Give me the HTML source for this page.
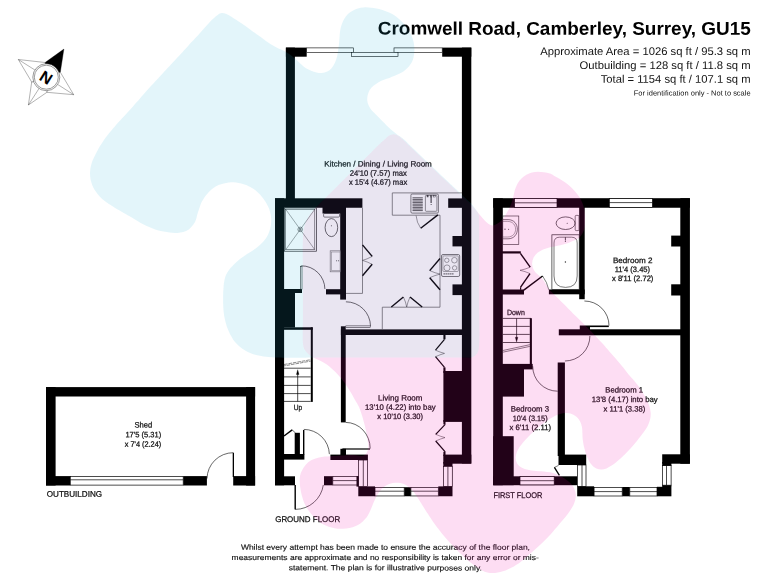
<!DOCTYPE html>
<html lang="en">
<head>
<meta charset="utf-8">
<title>Cromwell Road, Camberley, Surrey, GU15 - Floor plan</title>
<style>
html,body{margin:0;padding:0;background:#fff;}
body{width:768px;height:576px;overflow:hidden;}
svg{display:block;font-family:"Liberation Sans",sans-serif;text-rendering:geometricPrecision;}
</style>
</head>
<body>
<svg width="768" height="576" viewBox="0 0 768 576" shape-rendering="geometricPrecision">
<rect x="0" y="0" width="768" height="576" fill="#fff"/>
<g id="plan">
<rect x="46.00" y="387.10" width="209.10" height="9.40" fill="#000" />
<rect x="46.00" y="387.10" width="9.60" height="98.40" fill="#000" />
<rect x="246.10" y="387.10" width="9.00" height="98.40" fill="#000" />
<rect x="46.00" y="476.10" width="24.30" height="9.40" fill="#000" />
<rect x="183.20" y="476.10" width="23.70" height="9.40" fill="#000" />
<rect x="233.20" y="476.10" width="21.90" height="9.40" fill="#000" />
<rect x="70.30" y="476.40" width="112.90" height="8.70" fill="#fff" stroke="#000" stroke-width="0.7" />
<line x1="70.30" y1="479.80" x2="183.20" y2="479.80" stroke="#000" stroke-width="0.7" />
<rect x="232.70" y="452.80" width="1.30" height="24.20" fill="#000" />
<path d="M207.00,478.54 A26.30,26.30 0 0 1 233.30,452.70" fill="none" stroke="#000" stroke-width="0.6" />
<rect x="285.90" y="47.60" width="9.00" height="152.40" fill="#000" />
<rect x="285.90" y="47.60" width="20.80" height="9.10" fill="#000" />
<rect x="461.90" y="47.60" width="9.40" height="415.90" fill="#000" />
<rect x="442.20" y="47.60" width="29.10" height="9.10" fill="#000" />
<rect x="306.70" y="47.90" width="46.90" height="4.50" fill="#fff" stroke="#000" stroke-width="0.6" />
<rect x="394.00" y="47.90" width="48.20" height="4.50" fill="#fff" stroke="#000" stroke-width="0.6" />
<rect x="351.40" y="52.40" width="46.60" height="4.10" fill="#fff" stroke="#000" stroke-width="0.6" />
<rect x="275.00" y="198.30" width="9.10" height="287.00" fill="#000" />
<rect x="275.00" y="198.30" width="87.40" height="9.45" fill="#000" />
<rect x="322.50" y="205.00" width="23.50" height="8.50" fill="#000" />
<rect x="340.20" y="205.00" width="5.80" height="94.60" fill="#000" />
<rect x="326.00" y="289.20" width="16.00" height="5.20" fill="#000" />
<rect x="280.00" y="289.00" width="22.00" height="4.00" fill="#000" />
<rect x="275.00" y="290.00" width="20.00" height="37.50" fill="#000" />
<rect x="280.00" y="327.30" width="32.70" height="2.50" fill="#000" />
<rect x="310.80" y="327.30" width="2.00" height="74.60" fill="#000" />
<rect x="340.90" y="326.30" width="4.80" height="96.10" fill="#000" />
<rect x="340.90" y="329.40" width="124.10" height="5.60" fill="#000" />
<rect x="448.20" y="198.40" width="16.80" height="9.40" fill="#000" />
<rect x="452.50" y="236.00" width="12.50" height="10.40" fill="#000" />
<rect x="452.50" y="284.40" width="12.50" height="10.70" fill="#000" />
<rect x="443.40" y="333.00" width="2.10" height="6.30" fill="#000" />
<rect x="443.40" y="367.40" width="2.10" height="5.60" fill="#000" />
<rect x="443.40" y="371.00" width="21.60" height="50.90" fill="#000" />
<rect x="443.40" y="420.00" width="2.10" height="4.40" fill="#000" />
<rect x="443.40" y="451.80" width="2.10" height="4.20" fill="#000" />
<rect x="443.30" y="454.60" width="28.00" height="9.10" fill="#000" />
<rect x="443.30" y="462.00" width="9.20" height="4.60" fill="#000" />
<rect x="443.50" y="466.40" width="8.80" height="20.00" fill="#fff" stroke="#000" stroke-width="0.7" />
<line x1="447.90" y1="466.40" x2="447.90" y2="486.40" stroke="#000" stroke-width="0.7" />
<rect x="438.30" y="486.40" width="14.20" height="9.85" fill="#000" />
<rect x="358.30" y="486.40" width="16.70" height="9.85" fill="#000" />
<rect x="404.20" y="487.20" width="6.70" height="9.05" fill="#000" />
<rect x="375.00" y="487.60" width="29.20" height="8.35" fill="#fff" stroke="#000" stroke-width="0.7" />
<line x1="375.00" y1="491.20" x2="404.20" y2="491.20" stroke="#000" stroke-width="0.7" />
<rect x="410.90" y="487.60" width="27.40" height="8.35" fill="#fff" stroke="#000" stroke-width="0.7" />
<line x1="410.90" y1="491.20" x2="438.30" y2="491.20" stroke="#000" stroke-width="0.7" />
<rect x="358.60" y="460.00" width="8.90" height="26.40" fill="#fff" stroke="#000" stroke-width="0.7" />
<line x1="363.30" y1="460.00" x2="363.30" y2="486.40" stroke="#000" stroke-width="0.7" />
<rect x="330.40" y="454.60" width="37.50" height="5.40" fill="#000" />
<rect x="340.40" y="448.80" width="5.60" height="7.20" fill="#000" />
<rect x="324.00" y="476.20" width="8.80" height="9.10" fill="#000" />
<rect x="332.80" y="476.50" width="25.20" height="8.50" fill="#fff" stroke="#000" stroke-width="0.7" />
<line x1="332.80" y1="480.60" x2="358.00" y2="480.60" stroke="#000" stroke-width="0.7" />
<rect x="356.50" y="476.20" width="2.10" height="10.40" fill="#000" />
<rect x="275.00" y="476.30" width="20.00" height="9.00" fill="#000" />
<rect x="280.00" y="454.00" width="24.40" height="5.60" fill="#000" />
<rect x="294.70" y="432.80" width="5.20" height="23.20" fill="#000" />
<line x1="284.00" y1="436.00" x2="292.20" y2="429.90" stroke="#000" stroke-width="1.4" />
<line x1="292.20" y1="429.90" x2="295.50" y2="433.00" stroke="#000" stroke-width="0.6" />
<rect x="303.00" y="430.00" width="1.40" height="24.50" fill="#000" />
<path d="M303.80,429.40 A25.60,25.60 0 0 1 329.38,454.11" fill="none" stroke="#000" stroke-width="0.6" />
<rect x="294.50" y="485.00" width="1.40" height="24.40" fill="#000" />
<path d="M295.20,509.40 A28.40,28.40 0 0 0 323.32,484.95" fill="none" stroke="#000" stroke-width="0.6" />
<rect x="342.40" y="448.40" width="27.60" height="1.20" fill="#000" />
<path d="M345.7,422.4 A24.5,26.2 0 0 1 370.2,448.6" fill="none" stroke="#000" stroke-width="0.6" />
<rect x="345.80" y="325.90" width="24.40" height="1.70" fill="#fff" stroke="#000" stroke-width="0.5" />
<path d="M345.90,301.80 A24.60,24.60 0 0 1 370.50,325.97" fill="none" stroke="#000" stroke-width="0.6" />
<rect x="300.50" y="266.20" width="1.50" height="23.00" fill="#fff" stroke="#000" stroke-width="0.5" />
<path d="M301.30,265.80 A23.60,23.60 0 0 1 324.90,288.99" fill="none" stroke="#000" stroke-width="0.6" />
<line x1="284.00" y1="368.20" x2="310.70" y2="368.20" stroke="#000" stroke-width="0.7" />
<line x1="284.00" y1="376.90" x2="310.70" y2="376.90" stroke="#000" stroke-width="0.7" />
<line x1="284.00" y1="385.40" x2="310.70" y2="385.40" stroke="#000" stroke-width="0.7" />
<line x1="284.00" y1="393.60" x2="310.70" y2="393.60" stroke="#000" stroke-width="0.7" />
<line x1="284.00" y1="401.40" x2="310.70" y2="401.40" stroke="#000" stroke-width="0.7" />
<line x1="284.00" y1="364.50" x2="310.70" y2="359.70" stroke="#000" stroke-width="0.45" stroke-dasharray="3.6 0.9"/>
<line x1="284.00" y1="365.90" x2="310.70" y2="361.10" stroke="#000" stroke-width="0.45" stroke-dasharray="3.6 0.9" stroke-dashoffset="1.8"/>
<line x1="297.70" y1="401.40" x2="297.70" y2="373.00" stroke="#000" stroke-width="0.7" />
<path d="M296.4,374.6 L297.7,369.7 L299.0,374.6Z" fill="#000" stroke="#000" stroke-width="0.3" />
<rect x="284.30" y="208.00" width="32.10" height="43.20" fill="none" stroke="#222" stroke-width="0.7" />
<rect x="285.70" y="209.30" width="29.10" height="40.40" fill="none" stroke="#222" stroke-width="0.5" />
<line x1="285.70" y1="209.30" x2="314.80" y2="249.70" stroke="#222" stroke-width="0.4" />
<line x1="314.80" y1="209.30" x2="285.70" y2="249.70" stroke="#222" stroke-width="0.4" />
<circle cx="300.2" cy="229.4" r="2.3" fill="none" stroke="#222" stroke-width="0.5"/>
<circle cx="300.2" cy="229.4" r="1.0" fill="none" stroke="#222" stroke-width="0.4"/>
<rect x="323.6" y="213.5" width="15.9" height="3.6" rx="1" fill="none" stroke="#222" stroke-width="0.6"/>
<ellipse cx="331.4" cy="227.6" rx="6.3" ry="9.0" fill="none" stroke="#222" stroke-width="0.7"/>
<circle cx="331.4" cy="225.8" r="0.5" fill="#333"/>
<rect x="330.20" y="250.80" width="10.00" height="21.00" fill="none" stroke="#777" stroke-width="0.7" />
<rect x="331.40" y="252.00" width="8.80" height="18.60" fill="none" stroke="#777" stroke-width="0.5" />
<circle cx="336.6" cy="260.8" r="0.5" fill="#333"/><circle cx="338.6" cy="260.8" r="0.5" fill="#333"/>
<path d="M346,293.4 L362.5,293.4 L362.5,207.8" fill="none" stroke="#555" stroke-width="0.7" />
<line x1="362.50" y1="244.90" x2="372.20" y2="256.40" stroke="#000" stroke-width="1.4" />
<line x1="372.20" y1="264.30" x2="362.50" y2="275.80" stroke="#000" stroke-width="1.4" />
<path d="M372.2,256.4 Q367,259.2 362.5,260.4 Q367,261.6 372.2,264.3" fill="none" stroke="#000" stroke-width="0.4" />
<path d="M392.3,192.9 L462,192.9 M392.3,192.9 L392.3,215.2 L440.0,215.2 L440.0,307.2 L382.3,307.2 L382.3,329.4" fill="none" stroke="#555" stroke-width="0.7" />
<rect x="410.9" y="194.0" width="27.5" height="19.1" rx="1.2" fill="none" stroke="#444" stroke-width="0.7"/>
<rect x="425.4" y="195.4" width="11.5" height="15.9" rx="0.8" fill="none" stroke="#444" stroke-width="0.6"/>
<line x1="412.50" y1="197.80" x2="422.80" y2="197.80" stroke="#444" stroke-width="0.9" />
<line x1="412.50" y1="199.40" x2="422.80" y2="199.40" stroke="#444" stroke-width="0.9" />
<line x1="412.50" y1="201.00" x2="422.80" y2="201.00" stroke="#444" stroke-width="0.9" />
<line x1="412.50" y1="202.60" x2="422.80" y2="202.60" stroke="#444" stroke-width="0.9" />
<line x1="412.50" y1="204.20" x2="422.80" y2="204.20" stroke="#444" stroke-width="0.9" />
<line x1="412.50" y1="205.80" x2="422.80" y2="205.80" stroke="#444" stroke-width="0.9" />
<line x1="412.50" y1="207.40" x2="422.80" y2="207.40" stroke="#444" stroke-width="0.9" />
<line x1="412.50" y1="209.00" x2="422.80" y2="209.00" stroke="#444" stroke-width="0.9" />
<line x1="412.50" y1="210.60" x2="422.80" y2="210.60" stroke="#444" stroke-width="0.9" />
<line x1="431.10" y1="196.20" x2="431.10" y2="203.00" stroke="#222" stroke-width="1.0" />
<rect x="427.0" y="195.6" width="1.6" height="1.4" fill="none" stroke="#222" stroke-width="0.4"/>
<rect x="430.3" y="195.6" width="1.6" height="1.4" fill="none" stroke="#222" stroke-width="0.4"/>
<rect x="433.6" y="195.6" width="1.6" height="1.4" fill="none" stroke="#222" stroke-width="0.4"/>
<circle cx="431.1" cy="204.6" r="0.5" fill="#222"/>
<line x1="437.90" y1="214.90" x2="420.70" y2="228.20" stroke="#000" stroke-width="1.4" />
<path d="M420.7,228.2 Q416.6,222.5 416.1,215.6" fill="none" stroke="#000" stroke-width="0.4" />
<rect x="441.5" y="254.5" width="18.2" height="22.0" rx="1.5" fill="none" stroke="#555" stroke-width="0.8"/>
<rect x="442.9" y="255.9" width="15.4" height="15.6" rx="0.8" fill="none" stroke="#555" stroke-width="0.5"/>
<circle cx="446.8" cy="260.3" r="2.2" fill="none" stroke="#444" stroke-width="0.5"/>
<circle cx="454.4" cy="260.2" r="2.8" fill="none" stroke="#444" stroke-width="0.5"/>
<circle cx="447.0" cy="267.9" r="3.0" fill="none" stroke="#444" stroke-width="0.5"/>
<circle cx="454.6" cy="267.9" r="2.2" fill="none" stroke="#444" stroke-width="0.5"/>
<line x1="443.50" y1="273.80" x2="454.00" y2="273.80" stroke="#666" stroke-width="1.2" stroke-dasharray="1.4 0.6"/>
<line x1="440.00" y1="258.50" x2="429.70" y2="270.60" stroke="#000" stroke-width="1.4" />
<line x1="429.70" y1="277.70" x2="440.00" y2="289.80" stroke="#000" stroke-width="1.4" />
<path d="M429.7,270.6 Q435,273 440,274.1 Q435,275.3 429.7,277.7" fill="none" stroke="#000" stroke-width="0.4" />
<line x1="391.30" y1="307.00" x2="403.40" y2="297.00" stroke="#000" stroke-width="1.4" />
<line x1="410.00" y1="297.00" x2="422.20" y2="307.00" stroke="#000" stroke-width="1.4" />
<path d="M403.4,297.0 Q405.8,302 406.7,307 Q407.6,302 410,297" fill="none" stroke="#000" stroke-width="0.4" />
<path d="M444.5,339.3 L435.5,350.2" fill="none" stroke="#000" stroke-width="1.2" />
<path d="M435.5,356.7 L444.5,367.4" fill="none" stroke="#000" stroke-width="1.2" />
<path d="M435.5,350.2 Q440,352.2 444.5,353.4 Q440,354.6 435.5,356.7" fill="none" stroke="#000" stroke-width="0.4" />
<path d="M445.2,424.4 L435.7,434.3" fill="none" stroke="#000" stroke-width="1.2" />
<path d="M435.7,441.0 L445.2,451.8" fill="none" stroke="#000" stroke-width="1.2" />
<path d="M435.7,434.3 Q440.5,436.5 445.0,437.6 Q440.5,438.8 435.7,441.0" fill="none" stroke="#000" stroke-width="0.4" />
<rect x="493.20" y="198.30" width="9.60" height="286.90" fill="#000" />
<rect x="493.20" y="198.20" width="196.70" height="9.55" fill="#000" />
<rect x="680.30" y="198.20" width="9.60" height="265.50" fill="#000" />
<rect x="514.60" y="198.60" width="42.40" height="8.80" fill="#fff" stroke="#000" stroke-width="0.7" />
<line x1="514.60" y1="202.80" x2="557.00" y2="202.80" stroke="#000" stroke-width="0.7" />
<rect x="609.30" y="198.60" width="43.20" height="8.80" fill="#fff" stroke="#000" stroke-width="0.7" />
<line x1="609.30" y1="202.60" x2="652.50" y2="202.60" stroke="#000" stroke-width="0.7" />
<rect x="671.20" y="235.60" width="12.80" height="10.90" fill="#000" />
<rect x="671.20" y="284.30" width="12.80" height="11.20" fill="#000" />
<rect x="579.20" y="205.00" width="5.50" height="94.20" fill="#000" />
<rect x="548.90" y="289.50" width="35.80" height="4.80" fill="#000" />
<rect x="500.00" y="251.30" width="20.80" height="2.20" fill="#000" />
<rect x="500.00" y="289.50" width="24.00" height="5.00" fill="#000" />
<rect x="558.80" y="329.30" width="125.20" height="6.00" fill="#000" />
<rect x="579.80" y="326.80" width="10.20" height="4.20" fill="#000" />
<rect x="557.70" y="362.50" width="7.20" height="93.50" fill="#000" />
<rect x="558.50" y="454.60" width="27.70" height="10.40" fill="#000" />
<rect x="529.80" y="318.20" width="2.10" height="46.80" fill="#000" />
<rect x="500.00" y="363.90" width="32.70" height="5.50" fill="#000" />
<rect x="500.00" y="368.00" width="24.00" height="28.60" fill="#000" />
<rect x="493.20" y="436.20" width="20.50" height="49.00" fill="#000" />
<rect x="493.20" y="476.30" width="84.00" height="8.90" fill="#000" />
<rect x="520.00" y="476.60" width="34.20" height="8.30" fill="#fff" stroke="#000" stroke-width="0.7" />
<line x1="520.00" y1="480.70" x2="554.20" y2="480.70" stroke="#000" stroke-width="0.7" />
<rect x="577.50" y="465.00" width="8.50" height="21.40" fill="#fff" stroke="#000" stroke-width="0.7" />
<line x1="582.00" y1="465.00" x2="582.00" y2="486.40" stroke="#000" stroke-width="0.7" />
<rect x="577.20" y="486.30" width="16.90" height="10.00" fill="#000" />
<rect x="622.20" y="487.00" width="7.60" height="9.30" fill="#000" />
<rect x="657.00" y="486.80" width="14.40" height="9.50" fill="#000" />
<rect x="662.20" y="484.90" width="9.20" height="2.10" fill="#000" />
<rect x="594.10" y="487.50" width="28.10" height="8.50" fill="#fff" stroke="#000" stroke-width="0.7" />
<line x1="594.10" y1="491.60" x2="622.20" y2="491.60" stroke="#000" stroke-width="0.7" />
<rect x="629.80" y="487.50" width="27.20" height="8.50" fill="#fff" stroke="#000" stroke-width="0.7" />
<line x1="629.80" y1="491.60" x2="657.00" y2="491.60" stroke="#000" stroke-width="0.7" />
<rect x="662.50" y="465.60" width="8.60" height="19.60" fill="#fff" stroke="#000" stroke-width="0.7" />
<line x1="666.50" y1="465.60" x2="666.50" y2="485.20" stroke="#000" stroke-width="0.7" />
<rect x="662.20" y="454.30" width="27.70" height="9.40" fill="#000" />
<rect x="662.20" y="462.00" width="9.20" height="3.80" fill="#000" />
<line x1="554.40" y1="467.40" x2="559.40" y2="475.40" stroke="#000" stroke-width="1.3" />
<line x1="558.60" y1="465.40" x2="554.40" y2="467.40" stroke="#000" stroke-width="0.5" />
<line x1="502.80" y1="318.40" x2="531.00" y2="318.40" stroke="#000" stroke-width="0.7" />
<line x1="502.80" y1="326.40" x2="529.80" y2="326.40" stroke="#000" stroke-width="0.7" />
<line x1="502.80" y1="334.40" x2="529.80" y2="334.40" stroke="#000" stroke-width="0.7" />
<line x1="502.80" y1="342.50" x2="529.80" y2="342.50" stroke="#000" stroke-width="0.7" />
<line x1="502.80" y1="350.50" x2="529.80" y2="344.70" stroke="#000" stroke-width="0.5" />
<line x1="502.80" y1="352.20" x2="529.80" y2="346.40" stroke="#000" stroke-width="0.5" />
<line x1="516.60" y1="318.40" x2="516.60" y2="338.50" stroke="#000" stroke-width="0.7" />
<path d="M515.3,337.2 L516.6,342.0 L517.9,337.2Z" fill="#000" stroke="#000" stroke-width="0.3" />
<line x1="520.40" y1="253.40" x2="530.20" y2="267.20" stroke="#000" stroke-width="1.4" />
<line x1="530.00" y1="273.60" x2="520.60" y2="287.20" stroke="#000" stroke-width="1.4" />
<line x1="520.60" y1="287.20" x2="520.60" y2="289.80" stroke="#000" stroke-width="1.2" />
<path d="M530.2,267.2 Q525,269.4 520.0,270.3 Q525,271.3 530.0,273.6" fill="none" stroke="#000" stroke-width="0.4" />
<line x1="523.80" y1="290.20" x2="542.60" y2="276.00" stroke="#000" stroke-width="1.5" />
<path d="M542.6,276.0 Q547.2,282.3 548.8,289.8" fill="none" stroke="#000" stroke-width="0.5" />
<rect x="579.80" y="325.50" width="29.00" height="1.60" fill="#000" />
<path d="M584.40,301.00 A24.60,24.60 0 0 1 609.00,325.60" fill="none" stroke="#000" stroke-width="0.6" />
<path d="M589.90,336.00 A25.00,25.00 0 0 1 564.90,361.00" fill="none" stroke="#000" stroke-width="0.6" />
<path d="M557.70,391.20 A25.00,25.00 0 0 1 532.70,366.20" fill="none" stroke="#000" stroke-width="0.6" />
<rect x="502.80" y="216.00" width="16.00" height="28.40" fill="none" stroke="#222" stroke-width="0.6" />
<path d="M503.0,219.6 L508.0,219.6 C520.5,219.6 520.5,238.8 508.0,238.8 L503.0,238.8" fill="none" stroke="#222" stroke-width="0.6" />
<path d="M503.0,221.4 L507.6,221.4 C518.3,221.4 518.3,237.0 507.6,237.0 L503.0,237.0" fill="none" stroke="#222" stroke-width="0.4" />
<circle cx="505.0" cy="229.2" r="0.6" fill="#333"/><circle cx="508.6" cy="229.2" r="0.5" fill="#333"/>
<rect x="575.2" y="215.4" width="3.8" height="15.2" rx="1" fill="none" stroke="#222" stroke-width="0.6"/>
<ellipse cx="565.6" cy="223.2" rx="9.5" ry="6.3" fill="none" stroke="#222" stroke-width="0.7"/>
<circle cx="567.2" cy="223.2" r="0.5" fill="#333"/>
<rect x="551.90" y="234.80" width="27.30" height="54.70" fill="none" stroke="#222" stroke-width="0.7" />
<path d="M554.0,243.0 Q554.0,237.2 559.5,237.2 L571.6,237.2 Q577.2,237.2 577.2,243.0 L577.2,276.0 Q577.2,287.4 565.6,287.4 Q554.0,287.4 554.0,276.0Z" fill="none" stroke="#222" stroke-width="0.6"/>
<circle cx="565.4" cy="262.0" r="0.7" fill="#333"/>
<line x1="565.40" y1="237.20" x2="565.40" y2="240.20" stroke="#222" stroke-width="0.8" />
<circle cx="565.4" cy="241.2" r="0.6" fill="#333"/>
</g>
<g id="compass" stroke="#222" stroke-width="0.35" fill="none" stroke-linejoin="round">
<path d="M63.9,49.1 L45.1,62.5 L46.3,77.2 L60.3,72.2Z" fill="#000" stroke="#000"/>
<path d="M73.7,94.7 L60.3,72.2 L46.3,77.2 L46.9,92.3Z M73.7,94.7 L46.3,77.2" fill="#fff"/>
<path d="M28.4,105.0 L46.9,92.3 L46.3,77.2 L31.7,82.0Z M28.4,105.0 L46.3,77.2" fill="#fff"/>
<path d="M18.3,59.5 L31.7,82.0 L46.3,77.2 L45.1,62.5Z M18.3,59.5 L46.3,77.2" fill="#fff"/>
<circle cx="46.3" cy="77.2" r="13.5" fill="#fff" stroke-width="0.45"/>
<circle cx="46.3" cy="77.2" r="12.0" fill="#fff" stroke-width="0.45"/>
</g>
<text opacity="0.999" x="46.1" y="77.4" transform="rotate(32 46.1 77.4)" font-size="16" font-weight="bold" text-anchor="middle" dy="5.75" fill="#000">N</text>
<g id="labels" opacity="0.999">
<text x="377.80" y="34.60" transform="rotate(0.03 377.8 34.6)" font-size="18.4" text-anchor="start" font-weight="bold" fill="#000" textLength="373.00" lengthAdjust="spacingAndGlyphs" >Cromwell Road, Camberley, Surrey, GU15</text>
<text x="540.20" y="54.90" transform="rotate(0.03 540.2 54.9)" font-size="11.1" text-anchor="start" font-weight="normal" fill="#111" textLength="210.40" lengthAdjust="spacingAndGlyphs" >Approximate Area = 1026 sq ft / 95.3 sq m</text>
<text x="579.60" y="68.90" transform="rotate(0.03 579.6 68.9)" font-size="11.1" text-anchor="start" font-weight="normal" fill="#111" textLength="171.00" lengthAdjust="spacingAndGlyphs" >Outbuilding = 128 sq ft / 11.8 sq m</text>
<text x="600.70" y="82.80" transform="rotate(0.03 600.7 82.8)" font-size="11.1" text-anchor="start" font-weight="normal" fill="#111" textLength="149.90" lengthAdjust="spacingAndGlyphs" >Total = 1154 sq ft / 107.1 sq m</text>
<text x="633.80" y="95.50" transform="rotate(0.03 633.8 95.5)" font-size="7.3" text-anchor="start" font-weight="normal" fill="#111" textLength="116.80" lengthAdjust="spacingAndGlyphs" >For identification only - Not to scale</text>
<text x="324.30" y="166.40" transform="rotate(0.03 324.3 166.4)" font-size="7.8" text-anchor="start" font-weight="normal" fill="#111" stroke="#111" stroke-width="0.25" textLength="107.50" lengthAdjust="spacingAndGlyphs" >Kitchen / Dining / Living Room</text>
<text x="349.70" y="175.70" transform="rotate(0.03 349.7 175.7)" font-size="7.8" text-anchor="start" font-weight="normal" fill="#111" stroke="#111" stroke-width="0.25" textLength="57.20" lengthAdjust="spacingAndGlyphs" >24'10 (7.57) max</text>
<text x="348.90" y="184.70" transform="rotate(0.03 348.9 184.7)" font-size="7.8" text-anchor="start" font-weight="normal" fill="#111" stroke="#111" stroke-width="0.25" textLength="58.30" lengthAdjust="spacingAndGlyphs" >x 15'4 (4.67) max</text>
<text x="378.10" y="400.60" transform="rotate(0.03 378.1 400.6)" font-size="7.8" text-anchor="start" font-weight="normal" fill="#111" stroke="#111" stroke-width="0.25" textLength="44.30" lengthAdjust="spacingAndGlyphs" >Living Room</text>
<text x="365.00" y="409.70" transform="rotate(0.03 365.0 409.7)" font-size="7.8" text-anchor="start" font-weight="normal" fill="#111" stroke="#111" stroke-width="0.25" textLength="70.60" lengthAdjust="spacingAndGlyphs" >13'10 (4.22) into bay</text>
<text x="377.30" y="419.00" transform="rotate(0.03 377.3 419.0)" font-size="7.8" text-anchor="start" font-weight="normal" fill="#111" stroke="#111" stroke-width="0.25" textLength="45.70" lengthAdjust="spacingAndGlyphs" >x 10'10 (3.30)</text>
<text x="134.50" y="427.60" transform="rotate(0.03 134.5 427.6)" font-size="7.8" text-anchor="start" font-weight="normal" fill="#111" stroke="#111" stroke-width="0.25" textLength="17.80" lengthAdjust="spacingAndGlyphs" >Shed</text>
<text x="125.40" y="437.30" transform="rotate(0.03 125.4 437.3)" font-size="7.8" text-anchor="start" font-weight="normal" fill="#111" stroke="#111" stroke-width="0.25" textLength="35.80" lengthAdjust="spacingAndGlyphs" >17'5 (5.31)</text>
<text x="124.70" y="446.80" transform="rotate(0.03 124.7 446.8)" font-size="7.8" text-anchor="start" font-weight="normal" fill="#111" stroke="#111" stroke-width="0.25" textLength="36.50" lengthAdjust="spacingAndGlyphs" >x 7'4 (2.24)</text>
<text x="612.90" y="262.90" transform="rotate(0.03 612.9 262.9)" font-size="7.8" text-anchor="start" font-weight="normal" fill="#111" stroke="#111" stroke-width="0.25" textLength="39.60" lengthAdjust="spacingAndGlyphs" >Bedroom 2</text>
<text x="614.70" y="272.00" transform="rotate(0.03 614.7 272.0)" font-size="7.8" text-anchor="start" font-weight="normal" fill="#111" stroke="#111" stroke-width="0.25" textLength="35.40" lengthAdjust="spacingAndGlyphs" >11'4 (3.45)</text>
<text x="612.00" y="281.10" transform="rotate(0.03 612.0 281.1)" font-size="7.8" text-anchor="start" font-weight="normal" fill="#111" stroke="#111" stroke-width="0.25" textLength="41.40" lengthAdjust="spacingAndGlyphs" >x 8'11 (2.72)</text>
<text x="605.30" y="392.40" transform="rotate(0.03 605.3 392.4)" font-size="7.8" text-anchor="start" font-weight="normal" fill="#111" stroke="#111" stroke-width="0.25" textLength="37.70" lengthAdjust="spacingAndGlyphs" >Bedroom 1</text>
<text x="591.80" y="402.10" transform="rotate(0.03 591.8 402.1)" font-size="7.8" text-anchor="start" font-weight="normal" fill="#111" stroke="#111" stroke-width="0.25" textLength="65.90" lengthAdjust="spacingAndGlyphs" >13'8 (4.17) into bay</text>
<text x="603.50" y="411.60" transform="rotate(0.03 603.5 411.6)" font-size="7.8" text-anchor="start" font-weight="normal" fill="#111" stroke="#111" stroke-width="0.25" textLength="41.80" lengthAdjust="spacingAndGlyphs" >x 11'1 (3.38)</text>
<text x="510.80" y="411.40" transform="rotate(0.03 510.8 411.4)" font-size="7.8" text-anchor="start" font-weight="normal" fill="#111" stroke="#111" stroke-width="0.25" textLength="38.20" lengthAdjust="spacingAndGlyphs" >Bedroom 3</text>
<text x="512.70" y="421.00" transform="rotate(0.03 512.7 421.0)" font-size="7.8" text-anchor="start" font-weight="normal" fill="#111" stroke="#111" stroke-width="0.25" textLength="35.00" lengthAdjust="spacingAndGlyphs" >10'4 (3.15)</text>
<text x="509.50" y="430.10" transform="rotate(0.03 509.5 430.1)" font-size="7.8" text-anchor="start" font-weight="normal" fill="#111" stroke="#111" stroke-width="0.25" textLength="41.50" lengthAdjust="spacingAndGlyphs" >x 6'11 (2.11)</text>
<text x="293.80" y="409.70" transform="rotate(0.03 293.8 409.7)" font-size="7.6" text-anchor="start" font-weight="normal" fill="#111" stroke="#111" stroke-width="0.25" textLength="8.50" lengthAdjust="spacingAndGlyphs" >Up</text>
<text x="506.90" y="314.90" transform="rotate(0.03 506.9 314.9)" font-size="7.6" text-anchor="start" font-weight="normal" fill="#111" stroke="#111" stroke-width="0.25" textLength="17.90" lengthAdjust="spacingAndGlyphs" >Down</text>
<text x="46.80" y="496.80" transform="rotate(0.03 46.8 496.8)" font-size="8.2" text-anchor="start" font-weight="normal" fill="#111" stroke="#111" stroke-width="0.25" textLength="55.30" lengthAdjust="spacingAndGlyphs" >OUTBUILDING</text>
<text x="275.20" y="522.00" transform="rotate(0.03 275.2 522.0)" font-size="8.2" text-anchor="start" font-weight="normal" fill="#111" stroke="#111" stroke-width="0.25" textLength="65.00" lengthAdjust="spacingAndGlyphs" >GROUND FLOOR</text>
<text x="493.40" y="498.00" transform="rotate(0.03 493.4 498.0)" font-size="8.2" text-anchor="start" font-weight="normal" fill="#111" stroke="#111" stroke-width="0.25" textLength="48.90" lengthAdjust="spacingAndGlyphs" >FIRST FLOOR</text>
<text x="240.90" y="549.70" transform="rotate(0.03 240.9 549.7)" font-size="7.5" text-anchor="start" font-weight="normal" fill="#111" stroke="#111" stroke-width="0.15" textLength="289.10" lengthAdjust="spacingAndGlyphs" >Whilst every attempt has been made to ensure the accuracy of the floor plan,</text>
<text x="231.60" y="559.90" transform="rotate(0.03 231.6 559.9)" font-size="7.5" text-anchor="start" font-weight="normal" fill="#111" stroke="#111" stroke-width="0.15" textLength="307.20" lengthAdjust="spacingAndGlyphs" >measurements are approximate and no responsibility is taken for any error or mis-</text>
<text x="288.70" y="570.30" transform="rotate(0.03 288.7 570.3)" font-size="7.5" text-anchor="start" font-weight="normal" fill="#111" stroke="#111" stroke-width="0.15" textLength="193.30" lengthAdjust="spacingAndGlyphs" >statement. The plan is for illustrative purposes only.</text>
</g>
<defs>
<path id="wb" d="M222.0,13.0 L224.2,13.2 L226.5,14.0 L228.9,15.3 L231.4,16.8 L234.0,18.4 L236.5,20.0 L238.7,21.4 L241.0,22.9 L243.2,24.4 L245.5,26.1 L247.8,27.8 L250.1,29.5 L252.4,31.2 L254.7,32.8 L257.0,34.4 L259.3,36.1 L261.7,37.8 L264.0,39.5 L266.3,41.2 L268.6,42.8 L270.8,44.3 L273.0,45.6 L275.7,47.1 L278.5,48.4 L281.1,49.5 L283.6,50.7 L286.0,52.0 L288.4,53.5 L290.6,55.1 L292.8,56.8 L295.0,58.6 L297.1,60.5 L299.2,62.5 L301.4,64.6 L303.6,66.6 L306.0,68.2 L308.5,69.6 L311.1,70.8 L313.8,71.8 L316.4,72.6 L319.0,72.9 L321.8,72.9 L324.6,72.4 L327.2,71.6 L329.5,70.3 L331.6,68.3 L333.3,65.8 L334.8,62.9 L336.0,60.0 L336.8,57.6 L337.4,55.1 L337.8,52.5 L338.2,49.8 L338.6,46.9 L338.9,44.5 L339.2,41.9 L339.4,39.1 L339.6,36.3 L339.8,33.5 L340.1,30.9 L340.6,28.3 L341.2,26.0 L342.2,23.3 L343.2,20.7 L344.5,18.4 L346.0,16.2 L347.7,14.3 L349.8,12.5 L352.3,10.9 L355.0,9.6 L357.8,8.5 L360.7,7.8 L363.1,7.5 L365.7,7.3 L368.4,7.4 L371.1,7.7 L373.8,8.1 L376.5,8.5 L379.0,9.1 L381.7,9.8 L384.5,10.7 L387.1,11.7 L389.7,12.8 L392.2,14.1 L394.6,15.6 L396.7,17.1 L398.7,18.8 L400.7,20.5 L402.7,22.5 L404.5,24.5 L406.1,26.5 L407.6,28.6 L409.1,31.0 L410.5,33.6 L411.7,36.2 L412.7,38.9 L413.5,41.6 L414.0,44.3 L414.3,46.9 L414.4,49.7 L414.3,52.4 L414.0,55.1 L413.5,57.6 L412.8,60.0 L411.7,62.4 L410.3,64.6 L408.7,66.7 L406.9,68.6 L405.0,70.3 L402.7,71.9 L400.2,73.3 L397.5,74.5 L394.7,75.7 L392.0,76.8 L389.4,77.9 L386.7,78.8 L384.0,79.7 L381.4,80.8 L379.0,82.0 L376.4,83.7 L373.8,85.5 L371.6,87.5 L369.8,89.8 L368.6,92.3 L367.7,95.0 L367.3,97.7 L367.2,100.3 L367.7,103.0 L368.7,105.6 L370.0,108.0 L371.8,110.4 L373.9,112.6 L376.0,114.7 L378.6,117.3 L381.2,120.0 L383.0,121.8 L384.8,123.6 L386.6,125.5 L388.5,127.3 L390.9,129.5 L393.4,131.6 L395.8,133.6 L398.0,135.2 L400.2,136.6 L402.5,138.2 L404.6,140.1 L406.7,142.1 L408.8,144.2 L410.9,146.3 L413.0,148.3 L415.1,150.3 L417.2,152.3 L419.2,154.3 L421.3,156.3 L423.4,158.2 L425.4,160.2 L427.5,162.1 L429.5,164.0 L431.4,165.8 L433.3,167.7 L435.5,169.8 L437.3,171.6 L439.3,173.5 L441.4,175.4 L443.6,177.5 L445.7,179.5 L447.9,181.6 L449.9,183.5 L452.1,185.6 L454.2,187.6 L456.4,189.6 L458.5,191.6 L460.5,193.6 L462.5,195.5 L464.6,197.5 L466.7,199.4 L468.7,201.3 L470.6,203.1 L472.2,204.8 L474.3,207.4 L476.0,209.8 L477.5,212.1 L478.6,214.5 L479.0,216.6 L479.0,218.8 L479.0,222.0 L479.0,223.3 L479.1,224.8 L479.1,226.4 L479.1,228.2 L479.1,230.1 L479.1,232.2 L479.1,234.5 L479.1,236.8 L479.1,239.3 L479.1,241.8 L479.1,244.4 L479.1,247.2 L479.1,249.9 L479.1,252.8 L479.1,255.7 L479.1,258.6 L479.1,261.6 L479.1,264.5 L479.1,267.5 L479.1,270.5 L479.1,273.5 L479.1,276.4 L479.0,279.3 L479.0,282.2 L479.0,285.0 L479.0,287.7 L479.0,290.3 L479.0,292.9 L479.0,295.4 L479.0,297.8 L479.0,300.0 L479.0,302.9 L479.0,305.9 L479.1,308.8 L479.1,311.8 L479.1,314.8 L479.2,317.7 L479.2,320.6 L479.3,323.5 L479.3,326.3 L479.3,329.0 L479.4,331.6 L479.4,334.1 L479.4,336.5 L479.3,338.7 L479.3,340.8 L479.2,342.7 L479.1,344.5 L479.0,346.0 L478.6,350.1 L477.6,353.0 L475.4,355.5 L472.5,357.2 L470.2,357.7 L467.5,357.6 L464.0,357.5 L462.5,357.5 L460.9,357.5 L459.1,357.6 L457.2,357.6 L455.1,357.6 L452.8,357.6 L450.5,357.6 L448.0,357.6 L445.5,357.6 L442.8,357.6 L440.1,357.6 L437.3,357.6 L434.5,357.6 L431.6,357.6 L428.7,357.6 L425.7,357.6 L422.8,357.5 L419.8,357.5 L416.9,357.5 L413.9,357.5 L411.0,357.5 L408.2,357.5 L405.4,357.5 L402.7,357.5 L400.0,357.5 L397.5,357.5 L395.1,357.5 L392.6,357.5 L390.1,357.5 L387.6,357.5 L385.1,357.5 L382.5,357.5 L380.0,357.5 L377.4,357.5 L374.9,357.5 L372.3,357.5 L369.8,357.5 L367.2,357.5 L364.7,357.5 L362.1,357.5 L359.6,357.5 L357.0,357.5 L354.5,357.5 L352.0,357.5 L349.5,357.5 L347.0,357.5 L344.5,357.5 L342.0,357.5 L339.6,357.5 L337.2,357.5 L334.7,357.5 L332.4,357.5 L330.0,357.5 L327.3,357.5 L324.6,357.5 L321.9,357.5 L319.2,357.5 L316.4,357.6 L313.6,357.6 L310.9,357.6 L308.1,357.6 L305.4,357.7 L302.7,357.7 L300.1,357.7 L297.4,357.7 L294.8,357.7 L292.3,357.7 L289.9,357.7 L287.5,357.7 L285.2,357.7 L282.9,357.7 L280.8,357.6 L278.8,357.6 L276.8,357.5 L275.0,357.4 L271.7,357.2 L268.8,357.0 L266.1,356.8 L263.6,356.5 L261.2,356.1 L258.7,355.6 L256.0,354.9 L253.4,354.2 L250.8,353.3 L248.4,352.2 L246.0,351.0 L243.6,349.5 L241.3,347.9 L239.0,346.1 L236.9,344.1 L235.0,342.0 L233.2,339.7 L231.7,337.1 L230.2,334.4 L229.0,331.7 L227.8,329.0 L226.8,326.4 L226.0,323.8 L225.3,321.2 L224.7,318.6 L224.2,316.0 L223.8,313.1 L223.5,310.3 L223.3,307.5 L223.2,304.7 L223.1,301.7 L223.1,298.7 L223.1,295.6 L223.2,292.6 L223.4,289.5 L223.6,286.3 L223.9,283.2 L224.4,280.4 L225.1,277.6 L226.0,275.0 L227.3,272.5 L228.8,270.3 L230.5,268.0 L232.5,265.9 L234.6,263.8 L236.5,262.0 L238.5,260.3 L240.6,258.6 L242.8,257.0 L245.0,255.4 L247.0,254.0 L249.2,252.7 L251.3,251.4 L253.5,250.0 L255.6,248.6 L257.5,247.1 L259.6,245.2 L261.7,243.2 L263.6,241.2 L265.4,239.0 L266.9,236.7 L268.1,234.4 L269.1,231.9 L270.0,229.3 L270.6,226.8 L271.0,224.2 L271.2,221.7 L271.2,219.2 L271.0,216.7 L270.6,214.2 L270.0,211.7 L269.2,209.1 L268.1,206.5 L266.8,204.0 L265.3,201.5 L263.8,199.2 L262.0,196.9 L260.0,194.6 L257.9,192.5 L255.7,190.5 L253.3,188.8 L251.1,187.4 L248.7,186.2 L246.2,185.1 L243.7,184.2 L241.2,183.5 L238.8,182.9 L236.2,182.5 L233.7,182.3 L231.2,182.3 L228.7,182.5 L226.2,182.9 L223.7,183.5 L221.1,184.2 L218.5,185.1 L216.1,186.3 L213.8,187.7 L211.8,189.2 L209.8,191.0 L208.0,192.9 L206.3,195.0 L204.7,197.1 L203.3,199.2 L201.9,201.6 L200.8,204.1 L199.8,206.7 L199.0,209.2 L198.1,211.7 L197.3,214.4 L196.7,217.1 L196.0,219.6 L195.0,222.0 L193.2,224.8 L191.1,227.3 L188.8,229.4 L186.1,230.9 L183.3,231.9 L180.4,232.6 L177.8,232.9 L175.2,232.9 L172.3,232.7 L169.6,232.4 L166.7,232.1 L163.7,231.6 L160.7,231.0 L157.7,230.2 L155.2,229.4 L152.8,228.5 L150.4,227.6 L148.0,226.5 L145.6,225.4 L143.2,224.2 L140.7,222.9 L138.3,221.5 L135.9,220.1 L133.4,218.6 L131.0,217.1 L128.6,215.7 L126.1,214.3 L123.7,212.9 L121.2,211.5 L118.7,210.1 L116.3,208.7 L114.0,207.2 L111.4,205.6 L108.9,204.0 L106.4,202.3 L104.1,200.6 L101.9,198.7 L99.9,196.7 L98.0,194.5 L96.3,192.3 L94.7,190.0 L93.4,187.7 L92.2,185.0 L91.3,182.3 L90.6,179.6 L90.2,176.8 L90.0,174.1 L90.1,171.4 L90.4,168.6 L90.9,165.9 L91.6,163.5 L92.4,161.1 L93.5,158.6 L94.6,156.2 L95.8,153.7 L97.0,151.4 L98.3,149.0 L99.7,146.6 L101.2,144.2 L102.7,141.9 L104.3,139.5 L105.9,137.3 L107.5,135.2 L109.2,133.1 L111.0,130.9 L112.8,128.8 L114.6,126.7 L116.4,124.6 L118.2,122.5 L120.1,120.5 L121.9,118.5 L123.8,116.5 L125.7,114.4 L127.7,112.3 L129.8,110.0 L131.4,108.2 L133.0,106.4 L134.6,104.6 L136.3,102.6 L138.1,100.7 L139.8,98.7 L141.6,96.6 L143.4,94.6 L145.1,92.6 L146.9,90.6 L148.7,88.6 L150.5,86.6 L152.2,84.7 L153.9,82.9 L155.6,81.1 L157.3,79.2 L159.0,77.4 L160.7,75.5 L162.4,73.7 L164.1,71.8 L165.9,70.0 L167.6,68.1 L169.4,66.2 L171.2,64.2 L173.0,62.3 L174.7,60.4 L176.5,58.5 L178.4,56.5 L180.3,54.4 L182.2,52.4 L184.1,50.3 L186.0,48.2 L187.9,46.2 L189.7,44.1 L191.6,42.1 L193.4,40.2 L195.2,38.2 L196.8,36.4 L198.5,34.7 L200.0,33.0 L202.2,30.6 L204.2,28.3 L206.2,26.0 L208.1,23.9 L209.9,21.9 L211.7,20.1 L213.5,18.5 L215.6,16.6 L217.6,14.9 L219.7,13.6Z"/>
<path id="wp" d="M393.2,134.3 L395.4,134.6 L397.6,135.4 L399.8,136.8 L402.0,138.8 L403.9,140.5 L406.1,142.5 L408.2,144.7 L410.4,146.8 L412.5,148.8 L414.6,150.8 L416.7,152.8 L418.8,154.8 L420.8,156.8 L422.9,158.7 L424.9,160.7 L427.0,162.6 L429.0,164.5 L430.9,166.3 L432.8,168.2 L435.0,170.3 L436.8,172.1 L438.8,174.0 L440.9,175.9 L443.1,178.0 L445.2,180.0 L447.4,182.1 L449.4,184.0 L451.6,186.1 L453.7,188.1 L455.9,190.1 L458.0,192.1 L460.0,194.1 L462.0,196.0 L464.1,198.0 L466.2,199.9 L468.2,201.8 L470.1,203.6 L471.7,205.3 L473.9,207.7 L475.8,210.0 L477.5,212.0 L479.2,214.2 L481.0,216.2 L482.7,218.3 L484.5,220.3 L486.2,222.0 L488.3,223.8 L490.4,225.1 L492.2,225.4 L494.0,225.3 L495.8,224.6 L497.5,223.6 L499.8,222.0 L502.0,219.9 L503.9,217.5 L505.7,214.8 L507.3,212.0 L508.6,209.7 L509.8,207.4 L510.8,205.0 L511.8,202.2 L512.6,199.3 L513.4,196.5 L514.1,193.0 L515.0,189.5 L516.2,186.5 L517.6,183.5 L519.4,180.8 L521.5,178.5 L523.8,176.5 L526.4,174.8 L529.1,173.5 L532.0,172.6 L535.0,172.0 L538.0,171.8 L540.9,171.9 L543.8,172.2 L547.0,172.7 L550.0,173.5 L552.2,174.5 L554.4,175.9 L556.7,177.3 L559.0,178.6 L561.4,180.0 L563.8,181.5 L566.0,183.0 L568.5,184.9 L570.8,187.0 L573.0,189.2 L574.9,191.2 L576.7,193.4 L578.5,195.7 L580.0,198.0 L581.3,200.4 L582.4,202.9 L583.3,205.4 L584.0,208.0 L584.5,210.5 L584.8,212.9 L584.9,215.4 L585.0,218.0 L585.0,221.0 L584.9,224.1 L584.6,227.2 L584.0,230.0 L582.7,233.0 L581.0,235.8 L579.0,238.0 L576.0,239.7 L572.8,241.0 L570.5,242.0 L568.2,242.9 L565.8,243.8 L563.1,244.5 L560.3,245.2 L557.5,245.8 L554.3,246.5 L550.9,247.1 L547.8,247.9 L545.3,248.7 L543.0,249.6 L540.8,250.7 L537.8,252.6 L535.3,254.9 L533.6,257.5 L532.5,260.4 L532.1,263.5 L532.5,266.7 L533.6,269.6 L535.3,272.2 L538.0,274.7 L540.8,277.0 L542.3,278.7 L543.6,280.5 L545.3,283.2 L547.0,286.0 L548.1,287.8 L549.4,289.7 L550.8,291.3 L552.6,293.1 L554.6,295.0 L556.7,297.0 L558.8,299.0 L560.4,300.7 L562.2,302.5 L564.0,304.3 L565.8,306.1 L567.6,308.0 L569.4,309.8 L571.2,311.6 L573.0,313.4 L574.9,315.2 L576.7,317.0 L578.5,318.8 L580.3,320.6 L582.1,322.3 L583.8,324.0 L585.7,326.0 L587.6,327.8 L589.4,329.7 L591.3,331.5 L593.1,333.4 L595.0,335.4 L596.8,337.4 L598.7,339.4 L600.6,341.5 L602.5,343.6 L604.3,345.6 L606.1,347.7 L608.0,349.8 L609.8,351.9 L611.6,354.0 L613.4,356.1 L615.4,358.3 L617.3,360.6 L619.2,362.8 L621.1,364.9 L622.8,367.0 L624.4,369.1 L625.9,371.1 L627.4,373.0 L629.0,375.0 L630.8,377.1 L632.7,379.1 L634.6,381.2 L636.4,383.4 L638.0,385.5 L639.6,387.8 L641.1,390.1 L642.6,392.4 L644.0,394.8 L645.3,397.1 L646.5,399.4 L647.6,401.7 L648.6,404.0 L649.4,406.3 L650.2,409.5 L650.7,412.7 L650.7,415.8 L650.2,419.0 L649.2,422.2 L647.9,425.4 L646.7,427.7 L645.2,430.0 L643.6,432.3 L641.9,434.5 L640.2,436.8 L638.4,439.1 L636.5,441.5 L634.6,443.8 L632.7,446.1 L630.7,448.3 L628.8,450.3 L626.9,452.3 L625.0,454.2 L623.1,456.1 L621.1,457.9 L618.7,460.0 L616.4,462.0 L614.0,463.9 L611.6,465.5 L609.0,467.1 L606.5,468.5 L603.9,469.3 L601.3,469.5 L598.7,469.2 L596.3,468.4 L593.2,466.4 L590.6,463.6 L589.1,461.3 L587.8,458.6 L586.7,455.9 L585.6,452.8 L584.7,449.6 L583.9,446.4 L583.3,443.2 L582.8,440.0 L582.5,436.8 L582.4,433.6 L582.3,430.4 L582.0,427.3 L581.3,424.6 L580.4,422.0 L579.1,419.7 L577.5,417.7 L575.5,416.0 L573.4,414.7 L570.4,413.5 L567.2,413.0 L564.1,413.1 L560.9,413.8 L558.4,414.5 L555.7,415.6 L553.1,416.9 L550.8,418.2 L548.4,419.7 L546.1,421.4 L543.8,423.1 L541.4,424.9 L539.0,426.8 L536.7,428.8 L534.4,430.9 L532.5,432.7 L530.5,434.5 L528.6,436.4 L526.7,438.4 L525.0,440.3 L523.0,442.6 L521.1,445.0 L519.4,447.3 L518.0,449.7 L516.8,452.3 L516.0,455.0 L515.6,457.5 L516.0,460.8 L517.2,463.8 L519.2,466.0 L521.9,467.7 L524.7,468.9 L527.9,469.8 L531.2,470.5 L533.7,470.8 L536.2,471.0 L538.8,471.2 L541.3,471.3 L543.8,471.5 L547.0,471.9 L550.1,472.3 L553.1,473.0 L556.2,474.1 L559.2,475.5 L562.0,477.0 L564.6,478.6 L567.0,480.2 L569.2,482.0 L571.5,484.2 L573.3,486.7 L574.5,489.2 L575.4,492.1 L575.8,495.0 L575.7,497.8 L575.1,500.5 L574.2,503.3 L573.1,505.8 L571.6,508.3 L570.0,510.8 L568.3,513.3 L566.8,515.3 L565.2,517.3 L563.5,519.3 L561.7,521.3 L560.0,523.3 L558.4,525.2 L556.8,527.2 L555.1,529.1 L553.5,531.1 L551.8,533.1 L550.0,535.0 L548.1,537.0 L546.1,539.0 L544.1,541.0 L542.1,542.9 L540.2,544.8 L538.3,546.5 L536.1,548.5 L534.1,550.3 L532.1,552.0 L530.0,553.8 L527.8,555.8 L525.7,557.8 L523.4,559.7 L521.1,561.6 L518.6,563.4 L516.0,565.1 L513.4,566.7 L510.7,568.1 L508.1,569.3 L505.5,570.4 L502.9,571.3 L500.3,572.0 L497.7,572.5 L495.1,572.9 L492.5,573.1 L490.0,573.0 L487.3,572.5 L484.8,571.7 L482.2,570.5 L479.8,569.2 L477.4,567.6 L474.9,565.8 L472.5,564.0 L470.5,562.5 L468.6,560.9 L466.7,559.2 L464.8,557.5 L462.8,555.7 L461.0,554.0 L459.1,552.2 L457.2,550.3 L455.3,548.4 L453.5,546.5 L451.7,544.6 L449.7,542.4 L447.7,540.2 L445.7,538.0 L443.8,535.7 L441.9,533.5 L440.2,531.3 L438.5,529.1 L436.8,526.9 L435.2,524.7 L433.6,522.4 L432.2,520.4 L430.8,518.3 L429.4,516.2 L428.0,514.1 L426.6,512.0 L425.3,509.9 L423.8,507.6 L422.4,505.3 L421.0,503.0 L419.6,500.8 L418.3,498.8 L416.8,496.4 L415.4,494.2 L413.8,492.1 L412.0,490.2 L410.0,488.2 L408.0,486.4 L406.0,485.0 L403.2,483.7 L400.5,483.0 L398.1,482.7 L395.6,482.7 L392.8,483.0 L390.0,483.7 L386.9,485.0 L383.9,486.9 L382.0,488.6 L380.2,490.7 L378.6,492.8 L377.2,495.1 L375.9,497.5 L374.7,500.0 L373.6,502.5 L372.6,505.1 L371.5,507.8 L370.5,510.1 L369.4,512.5 L368.2,514.8 L366.9,516.9 L364.9,519.3 L362.8,521.5 L360.4,523.4 L357.9,525.0 L355.2,526.3 L352.6,527.3 L349.5,528.1 L346.1,528.5 L343.5,528.7 L340.5,528.8 L337.5,528.7 L334.6,528.3 L331.6,527.6 L328.7,526.7 L325.8,525.6 L323.0,524.2 L320.9,522.9 L318.8,521.3 L316.8,519.6 L314.9,517.8 L313.1,516.0 L311.0,513.7 L309.1,511.2 L307.3,508.7 L305.7,506.0 L304.4,503.2 L303.3,500.4 L302.4,497.4 L301.6,494.5 L300.9,491.6 L300.4,488.6 L300.0,485.7 L299.8,483.0 L299.7,479.4 L300.0,476.0 L300.9,472.8 L302.4,469.8 L304.0,467.1 L306.0,464.5 L308.2,462.3 L310.7,460.6 L313.5,459.3 L316.4,458.2 L319.1,457.5 L321.8,457.0 L324.7,456.6 L327.2,456.4 L329.9,456.2 L332.6,456.1 L335.5,456.0 L338.2,455.8 L341.0,455.6 L344.0,455.4 L347.0,455.2 L349.9,455.1 L352.6,455.0 L355.8,455.2 L358.9,455.7 L361.7,456.0 L364.0,455.5 L366.5,453.2 L368.0,450.0 L368.3,447.8 L368.3,445.3 L367.9,442.6 L367.6,440.0 L367.2,437.1 L366.8,434.3 L366.1,431.2 L365.4,428.0 L364.8,425.6 L364.1,422.9 L363.3,420.0 L362.5,417.1 L361.6,414.3 L360.7,411.6 L359.8,409.1 L359.0,407.0 L357.7,404.4 L356.4,402.2 L355.0,400.0 L353.8,397.8 L352.6,395.6 L351.3,393.3 L349.9,391.0 L348.6,388.9 L347.2,386.7 L345.7,384.5 L344.2,382.3 L342.6,380.2 L340.9,378.1 L339.1,376.0 L337.3,374.0 L335.4,372.0 L333.5,370.2 L331.3,368.2 L329.1,366.3 L326.8,364.5 L324.4,362.9 L321.7,361.4 L318.7,360.0 L315.9,358.7 L313.4,357.4 L310.5,355.7 L308.0,353.8 L305.9,351.6 L304.3,349.2 L303.5,346.9 L303.0,344.0 L302.8,342.1 L302.7,340.0 L302.7,337.5 L302.7,334.9 L302.7,332.1 L302.8,329.1 L302.8,326.1 L302.9,323.0 L302.9,320.0 L302.9,317.8 L302.9,315.5 L302.9,313.1 L302.9,310.7 L302.9,308.3 L302.9,305.7 L302.9,303.2 L302.9,300.6 L302.9,298.0 L302.9,295.4 L302.9,292.8 L302.9,290.2 L302.9,287.6 L302.9,285.1 L302.9,282.5 L302.9,280.0 L302.9,277.5 L302.9,274.8 L302.9,272.2 L302.8,269.5 L302.8,266.7 L302.8,264.0 L302.8,261.2 L302.7,258.5 L302.7,255.9 L302.7,253.3 L302.7,250.8 L302.7,248.4 L302.7,246.1 L302.8,243.9 L302.8,241.9 L302.9,240.0 L303.0,236.5 L303.2,233.5 L303.5,230.8 L304.0,228.0 L304.7,225.5 L305.5,223.1 L306.5,220.6 L307.7,218.3 L309.0,216.0 L310.5,213.8 L312.2,211.7 L314.1,209.6 L316.0,207.6 L318.0,205.5 L319.8,203.6 L321.6,201.7 L323.5,199.9 L325.5,197.9 L327.7,195.8 L330.0,193.5 L331.5,192.0 L333.2,190.3 L334.9,188.6 L336.8,186.7 L338.7,184.8 L340.7,182.8 L342.7,180.7 L344.8,178.7 L346.9,176.6 L348.9,174.6 L350.9,172.6 L352.9,170.6 L354.8,168.7 L356.6,166.8 L358.4,165.1 L360.0,163.5 L362.2,161.3 L364.3,159.2 L366.3,157.2 L368.3,155.2 L370.2,153.4 L371.9,151.7 L373.5,150.1 L375.0,148.6 L377.8,145.8 L380.2,143.4 L382.8,141.0 L385.4,138.8 L387.2,137.0 L389.0,135.6 L391.0,134.7Z"/>
<clipPath id="cb"><use href="#wb"/></clipPath>
<mask id="nb" maskUnits="userSpaceOnUse" x="0" y="0" width="768" height="576"><rect width="768" height="576" fill="#fff"/><use href="#wb" fill="#000"/></mask>
<mask id="np" maskUnits="userSpaceOnUse" x="0" y="0" width="768" height="576"><rect width="768" height="576" fill="#fff"/><use href="#wp" fill="#000"/></mask>
</defs>
<use href="#wb" fill="rgba(37,180,215,0.13)" mask="url(#np)"/>
<use href="#wp" fill="rgba(240,14,170,0.14)" mask="url(#nb)"/>
<g clip-path="url(#cb)"><use href="#wp" fill="rgba(105,80,160,0.15)"/></g>
</svg>
</body>
</html>
